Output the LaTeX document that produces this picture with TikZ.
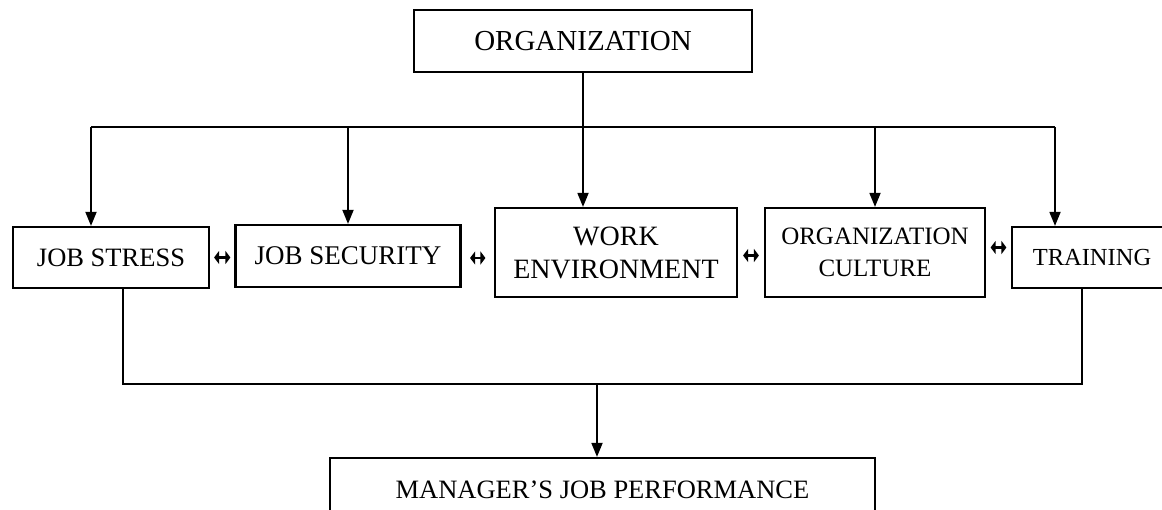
\documentclass[tikz,border=0pt]{standalone}
\usepackage{fontspec}
\setmainfont{Liberation Serif}
\usetikzlibrary{arrows.meta}
\begin{document}
\begin{tikzpicture}[x=1pt,y=-1pt,
  box/.style={draw, line width=2.2pt, inner sep=0pt, align=center},
  conn/.style={line width=1.8pt},
  arr/.style={line width=1.8pt, -{Triangle[length=14pt,width=11pt]}},
  biarrow/.style={line width=2.2pt, {Triangle[length=5pt,width=13pt]}-{Triangle[length=5pt,width=13pt]}, shorten <=#1, shorten >=#1}]
\useasboundingbox[fill=white] (0,0) rectangle (1162,510);
\node[box, minimum width=338pt, minimum height=62pt, font=\fontsize{29}{34}\selectfont] (org) at (583,41) {ORGANIZATION};
\node[box, minimum width=196pt, minimum height=61pt, font=\fontsize{26.5}{32}\selectfont] (js) at (111,257.5) {JOB STRESS};
\node[box, minimum width=225pt, minimum height=62pt, font=\fontsize{27}{32}\selectfont] (jsec) at (348,256) {JOB SECURITY};
\node[box, minimum width=242pt, minimum height=89pt, font=\fontsize{28}{33}\selectfont] (we) at (616,252.5) {WORK\\ENVIRONMENT};
\node[box, minimum width=220pt, minimum height=89pt, font=\fontsize{25}{32}\selectfont] (oc) at (875,252.5) {ORGANIZATION\\CULTURE};
\node[box, minimum width=160pt, minimum height=61pt, font=\fontsize{24.5}{30}\selectfont] (tr) at (1092,257.5) {TRAINING};
\node[box, minimum width=545pt, minimum height=64pt, font=\fontsize{26.5}{32}\selectfont] (mjp) at (602.5,490) {MANAGER’S JOB PERFORMANCE};
\coordinate (busL) at (91,127);
\coordinate (busR) at (1055,127);
\coordinate (botL) at (123,384);
\coordinate (botR) at (1082,384);
\coordinate (botM) at (597,384);
\draw[conn] (org.south) -- (org.south |- busL);
\draw[conn] (busL) -- (busR);
\draw[arr] (busL) -- (busL |- js.north);
\draw[arr] (jsec.north |- busL) -- (jsec.north);
\draw[arr] (org.south |- busL) -- (org.south |- we.north);
\draw[arr] (oc.north |- busL) -- (oc.north);
\draw[arr] (busR) -- (busR |- tr.north);
\draw[conn] (js.south -| botL) -- (botL) -- (botR) -- (tr.south -| botR);
\draw[arr] (botM) -- (botM |- mjp.north);
\draw[biarrow=4pt] (js.east) -- (jsec.west |- js.east);
\draw[biarrow=8.5pt] ([yshift=-2pt]jsec.east) -- ([yshift=-2pt]jsec.east -| we.west);
\draw[biarrow=5pt] ([yshift=-3pt]we.east) -- ([yshift=-3pt]we.east -| oc.west);
\draw[biarrow=4.5pt] ([yshift=5pt]oc.east) -- ([yshift=5pt]oc.east -| tr.west);
\end{tikzpicture}
\end{document}
